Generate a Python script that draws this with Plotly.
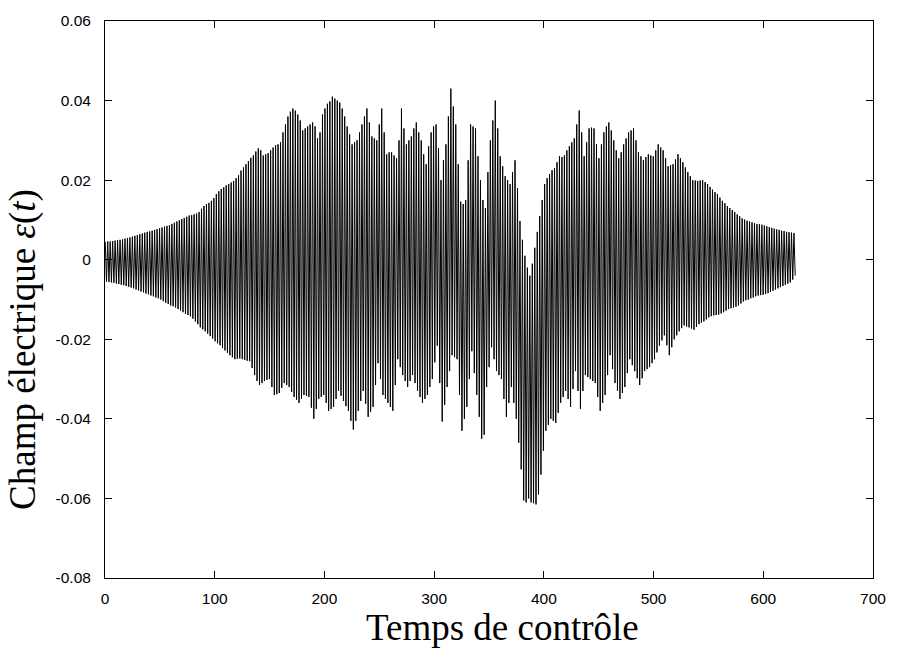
import plotly.graph_objects as go

# Time spacing between successive maxima of the oscillation (time units)
cycle_period = 2.25

# Upper extrema (maxima) of each oscillation cycle
upper_peaks = [
    0.0045, 0.0046, 0.0046, 0.0047, 0.0048, 0.0049, 0.0050, 0.0051, 0.0053, 0.0054,
    0.0056, 0.0058, 0.0060, 0.0062, 0.0064, 0.0066, 0.0068, 0.0070, 0.0071, 0.0073,
    0.0075, 0.0077, 0.0079, 0.0081, 0.0083, 0.0085, 0.0087, 0.0090, 0.0093, 0.0096,
    0.0099, 0.0102, 0.0105, 0.0108, 0.0111, 0.0112, 0.0114, 0.0116, 0.0120, 0.0128,
    0.0135, 0.0140, 0.0143, 0.0148, 0.0155, 0.0165, 0.0172, 0.0178, 0.0182, 0.0187,
    0.0190, 0.0194, 0.0198, 0.0205, 0.0212, 0.0224, 0.0232, 0.0240, 0.0248, 0.0256,
    0.0262, 0.0272, 0.0280, 0.0275, 0.0262, 0.0265, 0.0268, 0.0275, 0.0282, 0.0288,
    0.0290, 0.0295, 0.0320, 0.0340, 0.0360, 0.0372, 0.0380, 0.0375, 0.0365, 0.0350,
    0.0325, 0.0330, 0.0335, 0.0340, 0.0345, 0.0335, 0.0305, 0.0320, 0.0365, 0.0380,
    0.0392, 0.0398, 0.0410, 0.0405, 0.0400, 0.0395, 0.0380, 0.0360, 0.0335, 0.0315,
    0.0290, 0.0295, 0.0300, 0.0320, 0.0340, 0.0360, 0.0380, 0.0345, 0.0310, 0.0305,
    0.0300, 0.0340, 0.0380, 0.0320, 0.0265, 0.0270, 0.0270, 0.0262, 0.0255, 0.0300,
    0.0380, 0.0330, 0.0290, 0.0300, 0.0310, 0.0330, 0.0345, 0.0320, 0.0300, 0.0265,
    0.0240, 0.0285, 0.0320, 0.0335, 0.0340, 0.0280, 0.0200, 0.0250, 0.0290, 0.0360,
    0.0430, 0.0385, 0.0340, 0.0240, 0.0146, 0.0140, 0.0150, 0.0250, 0.0340, 0.0335,
    0.0330, 0.0260, 0.0200, 0.0150, 0.0130, 0.0220, 0.0300, 0.0350, 0.0400, 0.0330,
    0.0260, 0.0235, 0.0210, 0.0200, 0.0190, 0.0220, 0.0250, 0.0180, 0.0097, 0.0050,
    0.0010, -0.0020, -0.0040, -0.0010, 0.0030, 0.0070, 0.0110, 0.0150, 0.0190, 0.0205,
    0.0215, 0.0225, 0.0230, 0.0245, 0.0260, 0.0258, 0.0262, 0.0275, 0.0285, 0.0295,
    0.0305, 0.0340, 0.0375, 0.0320, 0.0260, 0.0295, 0.0330, 0.0332, 0.0330, 0.0290,
    0.0255, 0.0290, 0.0320, 0.0335, 0.0345, 0.0325, 0.0300, 0.0275, 0.0255, 0.0270,
    0.0290, 0.0305, 0.0320, 0.0325, 0.0330, 0.0300, 0.0270, 0.0260, 0.0250, 0.0258,
    0.0265, 0.0262, 0.0260, 0.0275, 0.0290, 0.0282, 0.0275, 0.0255, 0.0235, 0.0238,
    0.0240, 0.0252, 0.0265, 0.0255, 0.0245, 0.0232, 0.0220, 0.0210, 0.0200, 0.0199,
    0.0198, 0.0199, 0.0200, 0.0195, 0.0190, 0.0183, 0.0176, 0.0170, 0.0165, 0.0156,
    0.0148, 0.0142, 0.0135, 0.0130, 0.0125, 0.0120, 0.0114, 0.0109, 0.0104, 0.0101,
    0.0098, 0.0096, 0.0094, 0.0092, 0.0090, 0.0089, 0.0088, 0.0086, 0.0084, 0.0082,
    0.0080, 0.0078, 0.0076, 0.0075, 0.0073, 0.0072, 0.0070, 0.0069, 0.0068, 0.0067,
]

# Lower extrema (minima) of each oscillation cycle
lower_peaks = [
    -0.0055, -0.0056, -0.0057, -0.0058, -0.0060, -0.0061, -0.0063, -0.0064, -0.0066, -0.0068,
    -0.0070, -0.0072, -0.0075, -0.0077, -0.0080, -0.0082, -0.0085, -0.0087, -0.0090, -0.0092,
    -0.0095, -0.0097, -0.0100, -0.0104, -0.0108, -0.0111, -0.0115, -0.0117, -0.0120, -0.0124,
    -0.0128, -0.0132, -0.0136, -0.0139, -0.0142, -0.0148, -0.0155, -0.0162, -0.0170, -0.0175,
    -0.0180, -0.0186, -0.0192, -0.0198, -0.0205, -0.0210, -0.0215, -0.0222, -0.0228, -0.0234,
    -0.0240, -0.0245, -0.0250, -0.0249, -0.0248, -0.0250, -0.0252, -0.0254, -0.0255, -0.0272,
    -0.0290, -0.0305, -0.0315, -0.0310, -0.0305, -0.0302, -0.0300, -0.0320, -0.0340, -0.0338,
    -0.0335, -0.0322, -0.0310, -0.0315, -0.0320, -0.0332, -0.0345, -0.0352, -0.0360, -0.0350,
    -0.0340, -0.0342, -0.0345, -0.0372, -0.0400, -0.0375, -0.0350, -0.0345, -0.0340, -0.0360,
    -0.0380, -0.0375, -0.0370, -0.0350, -0.0330, -0.0342, -0.0355, -0.0368, -0.0380, -0.0405,
    -0.0427, -0.0405, -0.0380, -0.0355, -0.0330, -0.0362, -0.0395, -0.0382, -0.0370, -0.0315,
    -0.0260, -0.0300, -0.0340, -0.0350, -0.0360, -0.0370, -0.0380, -0.0315, -0.0250, -0.0270,
    -0.0290, -0.0305, -0.0320, -0.0305, -0.0290, -0.0310, -0.0330, -0.0345, -0.0360, -0.0350,
    -0.0340, -0.0320, -0.0300, -0.0258, -0.0216, -0.0310, -0.0407, -0.0365, -0.0320, -0.0280,
    -0.0240, -0.0245, -0.0250, -0.0340, -0.0430, -0.0400, -0.0370, -0.0300, -0.0230, -0.0285,
    -0.0340, -0.0395, -0.0450, -0.0440, -0.0320, -0.0270, -0.0220, -0.0250, -0.0280, -0.0290,
    -0.0300, -0.0350, -0.0395, -0.0360, -0.0320, -0.0360, -0.0400, -0.0460, -0.0527, -0.0605,
    -0.0610, -0.0600, -0.0610, -0.0612, -0.0615, -0.0590, -0.0540, -0.0480, -0.0430, -0.0415,
    -0.0400, -0.0405, -0.0410, -0.0385, -0.0360, -0.0345, -0.0330, -0.0350, -0.0370, -0.0325,
    -0.0280, -0.0330, -0.0375, -0.0330, -0.0290, -0.0295, -0.0300, -0.0305, -0.0310, -0.0345,
    -0.0380, -0.0360, -0.0340, -0.0290, -0.0240, -0.0275, -0.0310, -0.0330, -0.0350, -0.0335,
    -0.0320, -0.0285, -0.0250, -0.0265, -0.0280, -0.0298, -0.0315, -0.0298, -0.0280, -0.0275,
    -0.0270, -0.0260, -0.0250, -0.0233, -0.0216, -0.0203, -0.0190, -0.0215, -0.0240, -0.0220,
    -0.0200, -0.0190, -0.0180, -0.0172, -0.0165, -0.0168, -0.0170, -0.0173, -0.0176, -0.0169,
    -0.0162, -0.0158, -0.0155, -0.0150, -0.0145, -0.0142, -0.0140, -0.0139, -0.0138, -0.0135,
    -0.0132, -0.0128, -0.0124, -0.0122, -0.0120, -0.0118, -0.0115, -0.0110, -0.0105, -0.0102,
    -0.0100, -0.0097, -0.0095, -0.0092, -0.0090, -0.0089, -0.0088, -0.0086, -0.0084, -0.0081,
    -0.0078, -0.0075, -0.0072, -0.0069, -0.0066, -0.0063, -0.0060, -0.0057, -0.0050, -0.0040,
]

x_tick_vals = [0, 100, 200, 300, 400, 500, 600, 700]
y_tick_vals = [0.06, 0.04, 0.02, 0, -0.02, -0.04, -0.06, -0.08]
y_tick_text = ["0.06", "0.04", "0.02", "0", "-0.02", "-0.04", "-0.06", "-0.08"]

# Build the signal as alternating maxima / minima
t_vals = []
e_vals = []
for k, (hi, lo) in enumerate(zip(upper_peaks, lower_peaks)):
    t_vals.append(cycle_period * k + cycle_period * 0.1)
    e_vals.append(hi)
    t_vals.append(cycle_period * k + cycle_period * 0.6)
    e_vals.append(lo)

fig = go.Figure()
fig.add_trace(go.Scatter(
    x=t_vals, y=e_vals, mode="lines",
    line=dict(color="black", width=1),
    showlegend=False, hoverinfo="skip",
))

axis_common = dict(
    showgrid=False, zeroline=False, showline=True, linecolor="black", linewidth=1,
    mirror="ticks", ticks="inside", ticklen=7, tickwidth=1, tickcolor="black",
    tickfont=dict(family="Liberation Sans, Arial, sans-serif", size=15.5, color="black"),
)

fig.update_layout(
    width=910, height=648,
    margin=dict(l=105, r=37, t=14, b=70),
    paper_bgcolor="white", plot_bgcolor="white",
    xaxis=dict(range=[0, 700], tickvals=x_tick_vals, ticklabelstandoff=6, **axis_common),
    yaxis=dict(range=[-0.08, 0.06], tickvals=y_tick_vals, ticktext=y_tick_text,
               ticklabelstandoff=10, **axis_common),
    annotations=[
        dict(text="Temps de contrôle", xref="paper", yref="paper", x=0.518, y=-0.088,
             xanchor="center", yanchor="middle", showarrow=False,
             font=dict(family="Liberation Serif, serif", size=37, color="black")),
        dict(text="Champ électrique <i>ε</i>(<i>t</i>)", xref="paper", yref="paper",
             x=-0.107, y=0.411, textangle=-90, xanchor="center", yanchor="middle",
             showarrow=False,
             font=dict(family="Liberation Serif, serif", size=37, color="black")),
    ],
)

fig.write_html("out.html")
